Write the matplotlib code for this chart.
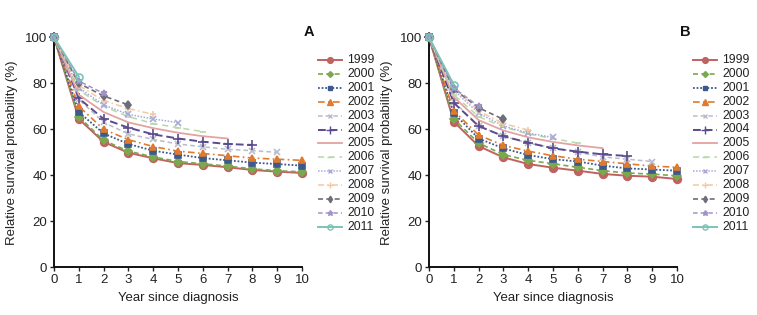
import matplotlib
matplotlib.use("Agg")
import matplotlib.pyplot as plt
import numpy as np

plt.rcParams['font.family'] = ['Liberation Sans', 'DejaVu Sans']

years = [str(y) for y in range(1999, 2012)]
x_ticks = list(range(0, 11))
y_ticks = [0, 20, 40, 60, 80, 100]

# Panel A values (relative survival %), year 0..n
A_1999 = [100, 64.5, 54.5, 49.8, 47.4, 45.3, 44.5, 43.5, 42.3, 41.6, 41.0]
A_2000 = [100, 65.5, 55.2, 50.5, 48.0, 46.0, 45.0, 44.0, 42.8, 42.0, 41.5]
A_2001 = [100, 67.5, 58.2, 53.6, 50.7, 49.0, 47.5, 46.5, 45.5, 44.9, 44.2]
A_2002 = [100, 70.0, 60.0, 55.5, 52.5, 50.5, 49.5, 48.5, 47.5, 47.0, 46.5]
A_2003 = [100, 73.0, 63.0, 58.0, 55.6, 53.6, 52.4, 51.3, 50.7, 50.0]
A_2004 = [100, 73.5, 64.5, 60.7, 57.8, 56.0, 54.6, 53.6, 53.2]
A_2005 = [100, 75.0, 67.5, 63.0, 60.5, 58.5, 57.0, 56.0]
A_2006 = [100, 77.0, 70.0, 65.5, 62.5, 60.7, 59.0]
A_2007 = [100, 78.0, 70.6, 66.5, 64.5, 62.9]
A_2008 = [100, 79.0, 72.5, 69.0, 66.5]
A_2009 = [100, 80.0, 74.5, 70.6]
A_2010 = [100, 81.0, 75.6]
A_2011 = [100, 82.9]

# Panel B values
B_1999 = [100, 63.3, 52.7, 47.8, 44.9, 43.3, 42.0, 40.6, 39.8, 39.4, 38.4]
B_2000 = [100, 64.5, 54.0, 49.0, 46.5, 45.0, 43.5, 42.0, 41.0, 40.5, 39.8]
B_2001 = [100, 67.0, 56.0, 51.7, 48.8, 47.0, 46.0, 44.2, 43.0, 42.5, 42.0]
B_2002 = [100, 68.0, 57.5, 53.0, 50.5, 48.5, 47.0, 46.0, 45.0, 44.0, 43.5]
B_2003 = [100, 72.0, 61.5, 57.0, 54.0, 52.0, 50.0, 48.0, 47.0, 46.0]
B_2004 = [100, 71.5, 61.4, 57.0, 54.2, 51.7, 50.3, 49.1, 48.4]
B_2005 = [100, 74.0, 64.0, 59.5, 56.5, 54.5, 53.0, 51.8]
B_2006 = [100, 75.0, 65.5, 61.0, 58.0, 56.0, 54.0]
B_2007 = [100, 77.0, 67.0, 61.5, 58.3, 56.5]
B_2008 = [100, 78.0, 68.0, 62.5, 59.7]
B_2009 = [100, 77.5, 69.4, 64.3]
B_2010 = [100, 78.0, 70.0]
B_2011 = [100, 79.4]

panel_A = [A_1999, A_2000, A_2001, A_2002, A_2003, A_2004, A_2005, A_2006,
           A_2007, A_2008, A_2009, A_2010, A_2011]
panel_B = [B_1999, B_2000, B_2001, B_2002, B_2003, B_2004, B_2005, B_2006,
           B_2007, B_2008, B_2009, B_2010, B_2011]

styles = [
    dict(color='#c0625f', ls='-', marker='o', ms=5.5, lw=1.4),
    dict(color='#7aa84e', ls=(0, (3, 2)), marker='D', ms=4, lw=1.2),
    dict(color='#3d5a8c', ls=(0, (1, 1)), marker='s', ms=4.5, lw=1.3),
    dict(color='#e07a2e', ls=(0, (4, 2, 1, 2)), marker='^', ms=5, lw=1.2),
    dict(color='#b9bccb', ls=(0, (3, 2)), marker='x', ms=4.5, lw=1.1),
    dict(color='#5a4a8e', ls=(0, (4, 2)), marker='+', ms=7, lw=1.4),
    dict(color='#e3a3a3', ls='-', marker=None, ms=0, lw=1.3),
    dict(color='#b7d8a8', ls=(0, (4, 3)), marker='_', ms=5, lw=1.1),
    dict(color='#a9a9d8', ls=(0, (1, 1)), marker='x', ms=4.5, lw=1.1),
    dict(color='#f2c9a2', ls=(0, (4, 2, 1, 2)), marker='+', ms=5, lw=1.1),
    dict(color='#6e6e78', ls=(0, (3, 2)), marker='d', ms=4.5, lw=1.2),
    dict(color='#a392c9', ls=(0, (3, 2)), marker='*', ms=5, lw=1.1),
    dict(color='#7cc3b6', ls='-', marker='o', ms=5, lw=1.4, mfc='none'),
]

fig = plt.figure(figsize=(7.57, 3.15), dpi=100)
W, H = 757.0, 315.0


def draw_panel(left_px, data, label, label_xy, leg_x):
    ax = fig.add_axes([left_px / W, (H - 267.3) / H, 248 / W, 230 / H])
    for vals, st in zip(data, styles):
        xs = np.arange(len(vals))
        kw = dict(color=st['color'], linestyle=st['ls'], linewidth=st['lw'],
                  clip_on=False, zorder=3)
        if st['marker']:
            kw.update(marker=st['marker'], markersize=st['ms'],
                      markeredgecolor=st['color'],
                      markerfacecolor=st.get('mfc', st['color']),
                      markeredgewidth=1.2)
        ax.plot(xs, vals, **kw)
    ax.set_xlim(0, 10)
    ax.set_ylim(0, 100)
    ax.set_xticks(x_ticks)
    ax.set_yticks(y_ticks)
    ax.tick_params(labelsize=9.5, length=3, width=1, direction='out',
                   colors='#222222', pad=2)
    for s in ['top', 'right']:
        ax.spines[s].set_visible(False)
    for s in ['left', 'bottom']:
        ax.spines[s].set_linewidth(1.4)
        ax.spines[s].set_color('#111111')
    ax.set_xlabel('Year since diagnosis', fontsize=9.5, labelpad=4, color='#222222')
    ax.set_ylabel('Relative survival probability (%)', fontsize=9.5,
                  labelpad=5, color='#222222')
    fig.text(label_xy[0] / W, 1 - label_xy[1] / H, label, fontsize=10.5,
             fontweight='bold', ha='left', va='center', color='#111111')
    # legend
    hx0, hx1 = leg_x, leg_x + 24
    for i, (yr, st) in enumerate(zip(years, styles)):
        yp = 1 - (60 + i * 13.9) / H
        ln = plt.Line2D([hx0 / W, hx1 / W], [yp, yp], transform=fig.transFigure,
                        color=st['color'], linestyle=st['ls'], linewidth=st['lw'])
        fig.add_artist(ln)
        if st['marker']:
            mk = plt.Line2D([(hx0 + hx1) / 2 / W], [yp], transform=fig.transFigure,
                            marker=st['marker'], markersize=st['ms'] * 0.75,
                            color=st['color'], markeredgecolor=st['color'],
                            markerfacecolor=st.get('mfc', st['color']),
                            markeredgewidth=1.0, linestyle='none')
            fig.add_artist(mk)
        fig.text((hx1 + 5) / W, yp, yr, fontsize=8.8, va='center', ha='left',
                 color='#222222')
    return ax


draw_panel(54, panel_A, 'A', (304, 32), 318)
draw_panel(429, panel_B, 'B', (680, 32), 693)

fig.savefig('out.png', dpi=100)
